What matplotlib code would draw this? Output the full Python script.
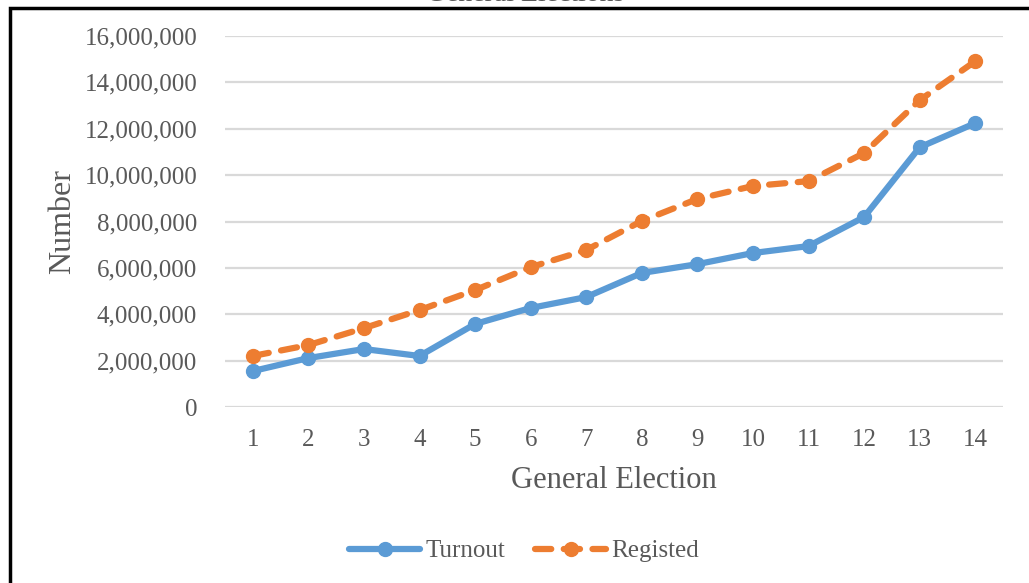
import matplotlib
matplotlib.use("Agg")
import matplotlib.pyplot as plt
from matplotlib.patches import Rectangle
from matplotlib.ticker import FuncFormatter, MultipleLocator

elections = list(range(1, 15))
turnout = [1550000, 2110000, 2500000, 2200000, 3580000, 4270000, 4740000,
           5780000, 6160000, 6640000, 6940000, 8190000, 11200000, 12240000]
registered = [2200000, 2670000, 3400000, 4180000, 5040000, 6030000, 6770000,
              8020000, 8970000, 9530000, 9740000, 10950000, 13230000, 14910000]

BLUE = "#5B9BD5"
ORANGE = "#ED7D31"
GREY = "#595959"
W, H = 1029, 583

plt.rcParams["font.family"] = ["Liberation Serif", "DejaVu Serif"]

fig = plt.figure(figsize=(W / 100, H / 100), dpi=100)
ax = fig.add_axes([225 / W, 1 - 407 / H, (1003 - 225) / W, (407 - 36) / H])

ax.plot(elections, turnout, color=BLUE, lw=4.5, marker="o", ms=10,
        solid_capstyle="round", label="Turnout", zorder=3)
ax.plot(elections, registered, color=ORANGE, lw=4.5, marker="o", ms=10,
        linestyle=(0, (2.6, 2.0)), dash_capstyle="round", label="Registed", zorder=3)

ax.set_xlim(0.5, 14.5)
ax.set_ylim(0, 16000000)
ax.set_xticks(elections)
ax.yaxis.set_major_locator(MultipleLocator(2000000))
ax.yaxis.set_major_formatter(FuncFormatter(lambda v, p: f"{int(v):,}"))

ax.grid(axis="y", color="#D9D9D9", lw=1.6)
ax.set_axisbelow(True)
for s in ax.spines.values():
    s.set_visible(False)
ax.tick_params(axis="both", length=0, labelsize=18, labelcolor=GREY)
ax.tick_params(axis="y", pad=20)
ax.tick_params(axis="x", pad=16)

ax.set_xlabel("General Election", fontsize=22, color=GREY, labelpad=11)
ax.set_ylabel("Number", fontsize=23, color=GREY, labelpad=5)

leg = fig.legend(loc="center", bbox_to_anchor=(524 / W, 1 - 551 / H), ncol=2,
                 frameon=False, fontsize=18, handlelength=2.85, columnspacing=1.2,
                 handletextpad=0.2, labelcolor=GREY)

# Chart title, mostly cut off at the top edge
fig.text(525 / W, 1 - 1 / H, "General Elections", ha="center", va="baseline",
         fontsize=20, color=GREY)

# Outer frame of the chart
fig.add_artist(Rectangle((10 / W, -0.1), 1.2, 1 - 8 / H + 0.1,
                         transform=fig.transFigure, fill=False,
                         edgecolor="black", lw=2.5))

fig.savefig("out.png", dpi=100, facecolor="white")
